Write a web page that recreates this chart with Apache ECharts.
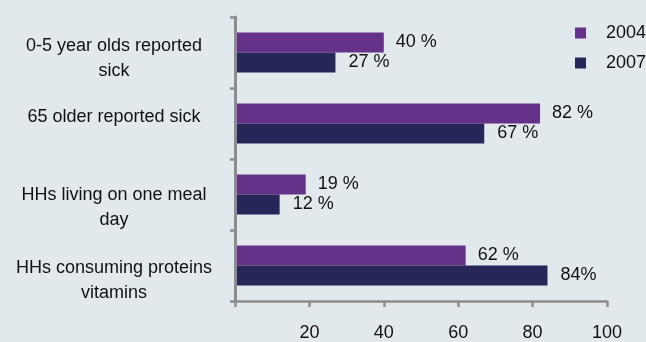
<!DOCTYPE html>
<html><head><meta charset="utf-8">
<script src="https://cdn.jsdelivr.net/npm/echarts@6/dist/echarts.min.js"></script>
<style>html,body{margin:0;padding:0;background:#e1e9ed;}#c{width:646px;height:342px;}</style>
</head><body><div id="c"></div>
<script>
const categories = ['0-5 year olds reported\nsick', '65 older reported sick', 'HHs living on one meal\nday', 'HHs consuming proteins\nvitamins'];
const values2004 = [40, 82, 19, 62];
const values2007 = [27, 67, 12, 84];
const labels2004 = ['40 %', '82 %', '19 %', '62 %'];
const labels2007 = ['27 %', '67 %', '12 %', '84%'];
const seriesNames = ['2004', '2007'];
const xTicks = [0, 20, 40, 60, 80, 100];

// layout/style only: vertical shift (px) of each category label's first line from its band centre
const labelShift = [-6, -6, 1, 3];

const FONT = '"Liberation Sans", Arial, sans-serif';
const FS = 18;
const LH = 25;
const axisColor = '#8c8c8c';

const rich = {s: {fontSize: FS, height: LH, color: '#111', fontFamily: FONT}};
categories.forEach((cat, i) => {
  const n = cat.split('\n').length;
  const p = 2 * (labelShift[i] + (n - 1) * LH / 2);
  rich['h' + i] = {fontSize: FS, height: LH, color: '#111', fontFamily: FONT,
    padding: p >= 0 ? [p, 0, 0, 0] : [0, 0, 0, 0]};
  rich['t' + i] = {fontSize: FS, height: LH, color: '#111', fontFamily: FONT,
    padding: p < 0 ? [0, 0, -p, 0] : [0, 0, 0, 0]};
});

const chart = echarts.init(document.getElementById('c'));
chart.setOption({
  backgroundColor: '#e1e9ed',
  animation: false,
  textStyle: {fontFamily: FONT},
  grid: {left: 235, right: 39, top: 17, bottom: 40},
  legend: {
    orient: 'vertical', left: 570, top: 19, itemWidth: 11, itemHeight: 11, itemGap: 12,
    icon: 'rect', data: seriesNames,
    textStyle: {fontFamily: FONT, fontSize: FS, color: '#111', padding: [0, 0, 0, 15]}
  },
  xAxis: {
    type: 'value', min: xTicks[0], max: xTicks[xTicks.length - 1], interval: 20, z: 3,
    axisLine: {show: true, lineStyle: {color: axisColor, width: 2.5}},
    axisTick: {show: true, length: 6, lineStyle: {color: axisColor, width: 2.5}},
    splitLine: {show: false},
    axisLabel: {margin: 23, fontSize: FS, color: '#111', fontFamily: FONT,
      formatter: v => (v === 0 ? '' : String(v))}
  },
  yAxis: {
    type: 'category', data: categories, inverse: true, z: 3,
    axisLine: {show: true, lineStyle: {color: axisColor, width: 3}},
    axisTick: {show: true, length: 5, lineStyle: {color: axisColor, width: 2.5}},
    axisLabel: {
      margin: 121, align: 'center', color: '#111', fontFamily: FONT, fontSize: FS,
      formatter: (v, i) => {
        const parts = v.split('\n');
        return parts.map((t, k) => {
          if (parts.length === 1) return '{' + (labelShift[i] > 0 ? 'h' : 't') + i + '|' + t + '}';
          if (k === 0) return '{h' + i + '|' + t + '}';
          if (k === parts.length - 1) return '{t' + i + '|' + t + '}';
          return '{s|' + t + '}';
        }).join('\n');
      },
      rich: rich
    }
  },
  series: [
    {name: seriesNames[0], type: 'bar', data: values2004, barWidth: 20, barGap: '0%',
      itemStyle: {color: '#663189'},
      label: {show: true, position: 'right', distance: 12, fontSize: FS, color: '#111', fontFamily: FONT,
        formatter: p => labels2004[p.dataIndex]}},
    {name: seriesNames[1], type: 'bar', data: values2007, barWidth: 20, barGap: '0%',
      itemStyle: {color: '#262659'},
      label: {show: true, position: 'right', distance: 13, fontSize: FS, color: '#111', fontFamily: FONT,
        formatter: p => labels2007[p.dataIndex]}}
  ]
});
</script></body></html>
